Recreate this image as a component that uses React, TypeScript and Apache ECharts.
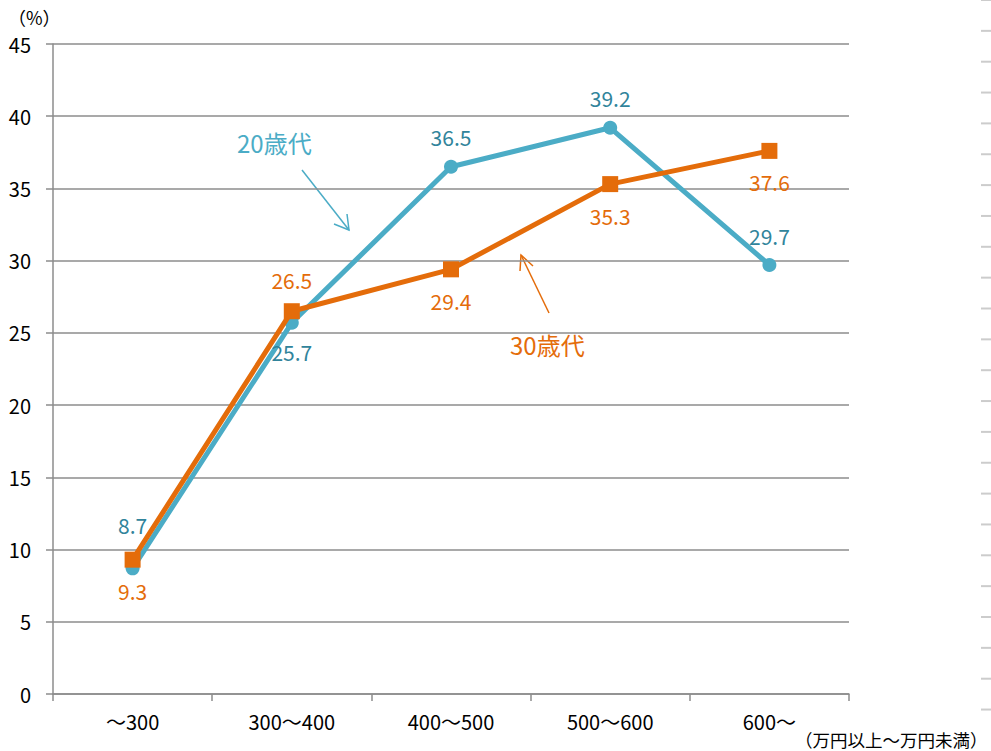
import React, { useEffect, useRef } from "react";
import * as echarts from "echarts";

const categories = ["～300", "300～400", "400～500", "500～600", "600～"];
const series20 = [8.7, 25.7, 36.5, 39.2, 29.7];
const series30 = [9.3, 26.5, 29.4, 35.3, 37.6];
const pos20 = ["top", "bottom", "top", "top", "top"];
const pos30 = ["bottom", "top", "bottom", "bottom", "bottom"];
const lift20 = [-14, 0, 0, 0, 0];

const FONT = "'Noto Sans CJK JP', 'Noto Sans', sans-serif";
const TEAL = "#4bacc6";
const TEAL_TXT = "#31849b";
const ORANGE = "#e46c0a";
const GRID = "#8c8c8c";

export default function App() {
  const ref = useRef<HTMLDivElement>(null);
  useEffect(() => {
    if (!ref.current) return;
    const chart = echarts.init(ref.current, null, { renderer: "svg" });
    const dashes: any[] = [];
    for (let i = 0; i < 24; i++) {
      dashes.push({
        type: "rect",
        shape: { x: 981, y: i * 30.85 - 1, width: 10, height: 2 },
        style: { fill: "#cccccc" },
      });
    }
    const mk = (vals: number[], pos: string[], lift?: number[]) =>
      vals.map((v, i) => ({
        value: v,
        label: { position: pos[i], offset: [0, lift ? lift[i] : 0] },
      }));
    chart.setOption({
      animation: false,
      textStyle: { fontFamily: FONT },
      grid: { left: 53, right: 142, top: 44, bottom: 57 },
      xAxis: {
        type: "category",
        data: categories,
        boundaryGap: true,
        axisLine: { lineStyle: { color: GRID, width: 1.5 } },
        axisTick: { show: true, length: 7, lineStyle: { color: GRID, width: 1.5 } },
        axisLabel: { color: "#000", fontSize: 20, margin: 17, fontFamily: FONT },
      },
      yAxis: {
        type: "value",
        min: 0,
        max: 45,
        interval: 5,
        axisLine: { show: true, lineStyle: { color: GRID, width: 1.5 } },
        axisTick: { show: true, length: 7, lineStyle: { color: GRID, width: 1.5 } },
        axisLabel: { color: "#000", fontSize: 20, margin: 22, fontFamily: FONT },
        splitLine: { lineStyle: { color: GRID, width: 1.5 } },
      },
      series: [
        {
          name: "20歳代",
          type: "line",
          data: mk(series20, pos20, lift20),
          symbol: "circle",
          symbolSize: 14,
          lineStyle: { color: TEAL, width: 5 },
          itemStyle: { color: TEAL },
          label: { show: true, color: TEAL_TXT, fontSize: 21, distance: 12, fontFamily: FONT },
          z: 2,
        },
        {
          name: "30歳代",
          type: "line",
          data: mk(series30, pos30),
          symbol: "rect",
          symbolSize: 16,
          lineStyle: { color: ORANGE, width: 5 },
          itemStyle: { color: ORANGE },
          label: { show: true, color: ORANGE, fontSize: 21, distance: 13, fontFamily: FONT },
          z: 3,
        },
      ],
      graphic: [
        ...dashes,
        {
          type: "text",
          x: 8,
          y: 17,
          style: { text: "（%）", fontSize: 18, fontFamily: FONT, fill: "#000", verticalAlign: "middle" },
        },
        {
          type: "text",
          x: 795,
          y: 739,
          style: { text: "（万円以上～万円未満）", fontSize: 17.5, fontFamily: FONT, fill: "#000", verticalAlign: "middle" },
        },
        {
          type: "text",
          x: 237,
          y: 142,
          style: { text: "20歳代", fontSize: 24, fontFamily: FONT, fill: TEAL, verticalAlign: "middle" },
        },
        {
          type: "line",
          shape: { x1: 302, y1: 170, x2: 349, y2: 230 },
          style: { stroke: TEAL, lineWidth: 1.5 },
        },
        {
          type: "polyline",
          shape: { points: [[334, 224], [349, 230], [347, 214]] },
          style: { stroke: TEAL, lineWidth: 1.5, fill: null },
        },
        {
          type: "text",
          x: 510,
          y: 344,
          style: { text: "30歳代", fontSize: 24, fontFamily: FONT, fill: ORANGE, verticalAlign: "middle" },
        },
        {
          type: "line",
          shape: { x1: 549, y1: 313, x2: 521, y2: 255 },
          style: { stroke: ORANGE, lineWidth: 1.5 },
        },
        {
          type: "polyline",
          shape: { points: [[520, 271], [521, 255], [533, 266]] },
          style: { stroke: ORANGE, lineWidth: 1.5, fill: null },
        },
      ],
    });
    return () => chart.dispose();
  }, []);
  return (
    <div
      ref={ref}
      style={{ position: "absolute", left: 0, top: 0, width: 991, height: 751 }}
    />
  );
}
